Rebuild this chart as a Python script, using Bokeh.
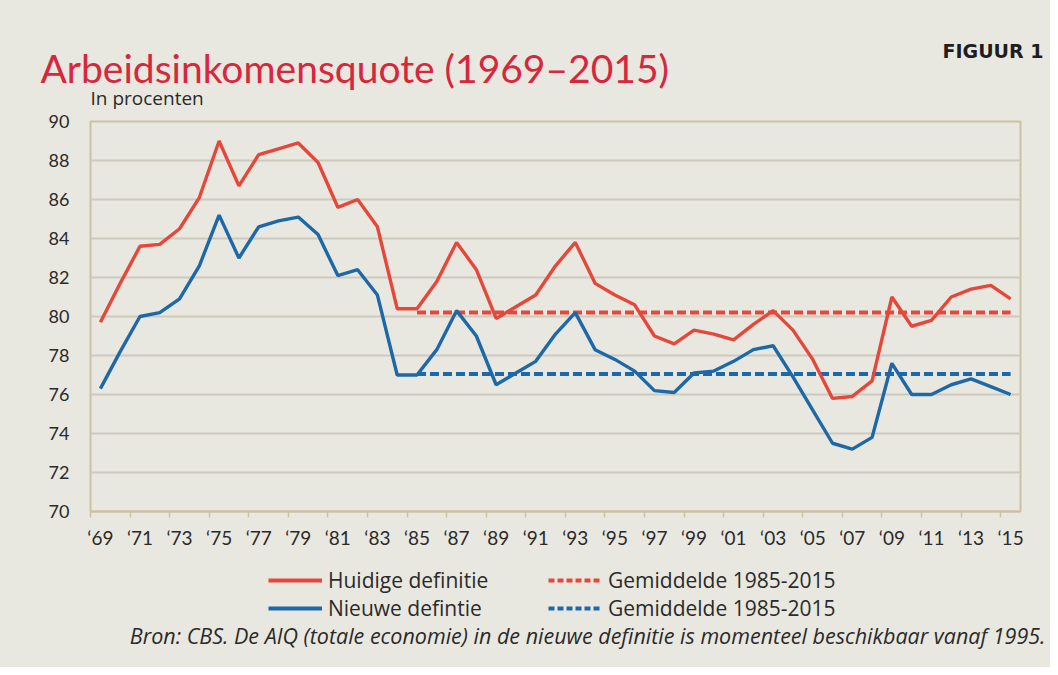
from bokeh.plotting import figure
from bokeh.models import (Range1d, FixedTicker, Label, Legend, LegendItem, ColumnDataSource)
from bokeh.layouts import column
from bokeh.embed import file_html
from bokeh.resources import INLINE

years = list(range(1969, 2016))
huidige = [79.7, 81.7, 83.6, 83.7, 84.5, 86.1, 89.0, 86.7, 88.3, 88.6, 88.9, 87.9,
           85.6, 86.0, 84.6, 80.4, 80.4, 81.8, 83.8, 82.4, 79.9, 80.5, 81.1, 82.6,
           83.8, 81.7, 81.1, 80.6, 79.0, 78.6, 79.3, 79.1, 78.8, 79.6, 80.3, 79.3,
           77.8, 75.8, 75.9, 76.7, 81.0, 79.5, 79.8, 81.0, 81.4, 81.6, 80.9]
nieuwe = [76.3, 78.2, 80.0, 80.2, 80.9, 82.6, 85.2, 83.0, 84.6, 84.9, 85.1, 84.2,
          82.1, 82.4, 81.1, 77.0, 77.0, 78.3, 80.3, 79.0, 76.5, 77.1, 77.7, 79.1,
          80.2, 78.3, 77.8, 77.2, 76.2, 76.1, 77.1, 77.2, 77.7, 78.3, 78.5, 76.9,
          75.2, 73.5, 73.2, 73.8, 77.6, 76.0, 76.0, 76.5, 76.8, 76.4, 76.0]
avg_years = [1985, 2015]
avg_huidige = [80.2, 80.2]
avg_nieuwe = [77.05, 77.05]
y_ticks = list(range(70, 91, 2))
label_years = list(range(1969, 2016, 2))
tick_labels = ["\u2018" + str(y)[2:] for y in label_years]
legend_labels = ["Huidige definitie", "Nieuwe defintie", "Gemiddelde 1985-2015", "Gemiddelde 1985-2015"]
title_text = "Arbeidsinkomensquote (1969\u20132015)"
figure_text = "FIGUUR 1"
unit_text = "In procenten"
source_text = "Bron: CBS. De AIQ (totale economie) in de nieuwe definitie is momenteel beschikbaar vanaf 1995."

RED = "#e5483a"
BLUE = "#1d68a8"
BG = "#e9e8e0"
FONT = "Lato"
FONT2 = "Open Sans"
TXT = "#2a2a2a"
W = 1050
H_TOP, H_MAIN, H_BOT = 111, 440, 116


def blank(h):
    f = figure(width=W, height=h, output_backend="svg", toolbar_location=None, title=None,
               x_axis_type=None, y_axis_type=None,
               x_range=Range1d(0, W), y_range=Range1d(0, h),
               min_border=0, min_border_left=0, min_border_right=0,
               min_border_top=0, min_border_bottom=0)
    f.frame_align = False
    f.grid.visible = False
    f.background_fill_color = BG
    f.border_fill_color = BG
    f.outline_line_color = None
    return f


# ---- top: titles
top = blank(H_TOP)
top.add_layout(Label(x=40, y=H_TOP - 67, text=title_text, text_font=FONT,
                     text_font_size="39px", text_color="#d8263c", text_baseline="alphabetic"))
top.add_layout(Label(x=1043, y=H_TOP - 50, text=figure_text,
                     text_font="DejaVu Sans", text_font_style="bold", text_font_size="19px",
                     text_color="#1e1e1e", text_align="right", text_baseline="alphabetic"))
top.add_layout(Label(x=90, y=H_TOP - 97, text=unit_text,
                     text_font=FONT2, text_font_size="19px", text_color=TXT,
                     text_baseline="alphabetic"))

# ---- main chart
p = figure(width=W, height=H_MAIN, output_backend="svg", toolbar_location=None, title=None,
           x_range=Range1d(1968.5, 2015.5), y_range=Range1d(70, 90),
           min_border_left=90, min_border_right=30, min_border_top=10, min_border_bottom=40)
p.frame_align = False
p.background_fill_color = BG
p.border_fill_color = BG
p.outline_line_color = "#cbc2a6"
p.outline_line_width = 2

src = ColumnDataSource(dict(year=years, h=huidige, n=nieuwe))
avg_src = ColumnDataSource(dict(year=avg_years, h=avg_huidige, n=avg_nieuwe))

p.line("year", "h", source=avg_src, line_color=RED, line_width=4, line_dash="9 4")
p.line("year", "n", source=avg_src, line_color=BLUE, line_width=4, line_dash="9 4")
p.line("year", "h", source=src, line_color=RED, line_width=3.4)
p.line("year", "n", source=src, line_color=BLUE, line_width=3.4)

p.xaxis.ticker = FixedTicker(ticks=label_years, minor_ticks=[y - 0.5 for y in range(1969, 2017, 2)])
p.xaxis.major_label_overrides = {y: t for y, t in zip(label_years, tick_labels)}
p.xaxis.major_tick_line_color = None
p.xaxis.minor_tick_line_color = "#cbc2a6"
p.xaxis.minor_tick_line_width = 1.5
p.xaxis.minor_tick_in = 0
p.xaxis.minor_tick_out = 6
p.xaxis.axis_line_color = "#cbc2a6"
p.xaxis.axis_line_width = 2
p.xaxis.major_label_text_font = FONT
p.xaxis.major_label_text_font_size = "19px"
p.xaxis.major_label_text_color = TXT
p.xaxis.major_label_standoff = 8

p.yaxis.ticker = FixedTicker(ticks=y_ticks)
p.yaxis.major_tick_line_color = None
p.yaxis.minor_tick_line_color = None
p.yaxis.axis_line_color = None
p.yaxis.major_label_text_font = FONT
p.yaxis.major_label_text_font_size = "18px"
p.yaxis.major_label_text_color = TXT
p.yaxis.major_label_standoff = 15

p.xgrid.grid_line_color = None
p.ygrid.ticker = FixedTicker(ticks=y_ticks)
p.ygrid.grid_line_color = "#cdc9bd"
p.ygrid.grid_line_width = 2

# ---- bottom: legend + source (legend renderers hold the series but lie outside this panel's view)
bot = blank(H_BOT)
bsrc = ColumnDataSource(dict(year=years, h=huidige, n=nieuwe))
l_h = bot.line("year", "h", source=bsrc, line_color=RED, line_width=4)
l_n = bot.line("year", "n", source=bsrc, line_color=BLUE, line_width=4)
l_ah = bot.line("year", "h", source=bsrc, line_color=RED, line_width=4, line_dash="6 3")
l_an = bot.line("year", "n", source=bsrc, line_color=BLUE, line_width=4, line_dash="6 3")


def make_legend(items, loc):
    lg = Legend(items=items, location=loc, orientation="vertical")
    lg.background_fill_alpha = 0
    lg.border_line_color = None
    lg.padding = 0
    lg.margin = 0
    lg.spacing = -6
    lg.glyph_width = 54
    lg.glyph_height = 20
    lg.label_height = 20
    lg.label_standoff = 6
    lg.label_text_font = FONT2
    lg.label_text_font_size = "21px"
    lg.label_text_color = TXT
    return lg


LEG_Y = 45
bot.add_layout(make_legend([LegendItem(label=legend_labels[0], renderers=[l_h]),
                            LegendItem(label=legend_labels[1], renderers=[l_n])], (268, LEG_Y)))
bot.add_layout(make_legend([LegendItem(label=legend_labels[2], renderers=[l_ah]),
                            LegendItem(label=legend_labels[3], renderers=[l_an])], (548, LEG_Y)))
bot.add_layout(Label(x=1045, y=H_BOT - 84, text=source_text,
                     text_font=FONT2, text_font_style="italic", text_font_size="21.5px",
                     text_color=TXT, text_align="right", text_baseline="alphabetic"))

layout = column(top, p, bot, spacing=0)
layout.background = BG
open("out.html", "w").write(file_html(layout, INLINE))
